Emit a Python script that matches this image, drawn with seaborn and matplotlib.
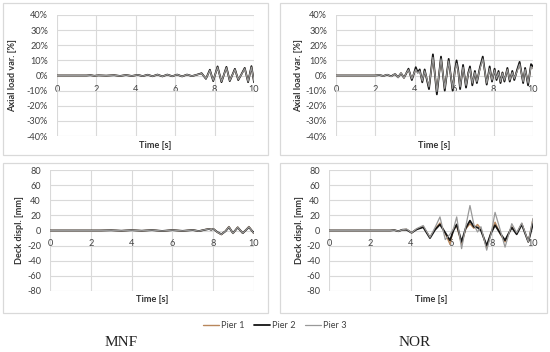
import matplotlib
matplotlib.use("Agg")
import matplotlib.pyplot as plt
from matplotlib.patches import Rectangle
import seaborn as sns
import pandas as pd

# ---------------- data ----------------
piers = ["Pier 1", "Pier 2", "Pier 3"]
pier_colors = ["#b8875c", "#141414", "#999999"]
pier_widths = [1.0, 1.3, 0.9]

time_ticks = [0, 2, 4, 6, 8, 10]
axial_ticks = [-40, -30, -20, -10, 0, 10, 20, 30, 40]
displ_ticks = [-80, -60, -40, -20, 0, 20, 40, 60, 80]

# MNF - axial load variation [%]
mnf_axial_t = [0, 1.5, 1.7, 1.9, 2.1, 2.5, 2.9, 3.2, 3.5, 3.8, 4.1, 4.35, 4.6, 4.85,
               5.1, 5.35, 5.6, 5.85, 6.1, 6.35, 6.6, 6.85, 7.1, 7.34, 7.56, 7.76, 7.93,
               8.15, 8.35, 8.6, 8.77, 9.03, 9.2, 9.35, 9.53, 9.7, 9.87, 10.0]
mnf_axial_p1 = [0, 0, 0.2, -0.2, 0.1, -0.1, 0.2, -0.3, 0.3, -0.3, 0.4, -0.4, 0.5, -0.5,
                0.6, -0.6, 0.6, -0.5, 0.6, -0.6, 0.6, -0.4, 0.5, 1.4, -2.0, 3.5, -3.4,
                5.6, -4.1, 5.3, -3.4, 4.1, -2.8, 0.5, 4.7, -4.1, 5.8, -4.0]
mnf_axial_p2 = [0, 0, 0.2, -0.2, 0.1, -0.1, 0.2, -0.3, 0.3, -0.3, 0.4, -0.4, 0.5, -0.5,
                0.6, -0.6, 0.6, -0.5, 0.6, -0.6, 0.6, -0.4, 0.5, 1.5, -2.2, 3.8, -3.7,
                6.0, -4.4, 5.7, -3.7, 4.4, -3.0, 0.5, 5.0, -4.4, 6.2, -4.4]
mnf_axial_p3 = [0, 0, 0.2, -0.2, 0.1, -0.1, 0.2, -0.3, 0.3, -0.3, 0.4, -0.4, 0.5, -0.5,
                0.6, -0.6, 0.6, -0.5, 0.6, -0.6, 0.6, -0.4, 0.5, 1.3, -2.0, 3.3, -3.2,
                5.4, -3.9, 5.1, -3.3, 3.9, -2.6, 0.4, 4.5, -3.9, 5.5, -3.8]

# NOR - axial load variation [%]
nor_axial_t = [0, 2.0, 2.2, 2.4, 2.6, 2.8, 3.0, 3.15, 3.3, 3.45, 3.55, 3.68, 3.85, 3.95,
               4.05, 4.15, 4.25, 4.38, 4.5, 4.6, 4.72, 4.92, 5.12, 5.33, 5.52, 5.72, 5.92,
               6.03, 6.12, 6.2, 6.3, 6.45, 6.6, 6.72, 6.8, 6.92, 7.05, 7.15, 7.3, 7.45,
               7.65, 7.8, 7.92, 8.05, 8.15, 8.25, 8.35, 8.45, 8.55, 8.7, 8.82, 8.95, 9.05,
               9.2, 9.32, 9.5, 9.6, 9.75, 9.9, 10.0]
nor_axial_p1 = [0, 0, 0.3, -0.3, 0.5, -0.6, 1.1, -1.3, 1.6, -1.6, 1.0, 4.0, -2.5, 1.0,
                4.5, 2.0, 3.5, -4.0, 3.5, -2.0, -8.0, 12.5, -11.0, 11.5, -9.0, 10.0, -9.0,
                2.5, 8.5, 3.5, -8.0, 6.0, -7.0, 2.0, 5.0, -5.5, 2.5, -4.5, 4.5, 11.5,
                -5.5, 5.0, -3.5, 4.0, -2.5, 2.5, -4.5, 2.0, -3.5, 4.5, -3.5, 2.5, -2.5,
                3.5, 8.0, -4.5, 4.5, -5.5, 6.5, 5.0]
nor_axial_p2 = [0, 0, 0.3, -0.3, 0.5, -0.5, 1.0, -1.2, 1.5, -1.5, 1.0, 4.5, -3.0, 1.0,
                5.5, 2.0, 4.0, -4.5, 4.0, -2.0, -9.0, 14.0, -12.5, 12.5, -10.0, 11.0, -10.0,
                3.0, 10.0, 4.0, -9.0, 7.0, -8.0, 2.0, 6.0, -6.5, 3.0, -5.0, 5.0, 12.5,
                -6.0, 6.0, -4.0, 4.5, -3.0, 3.0, -5.0, 2.0, -4.0, 5.0, -4.0, 3.0, -3.0,
                4.0, 9.0, -5.0, 5.0, -6.5, 7.5, 6.0]
nor_axial_p3 = [0, 0, 0.4, -0.4, 0.6, -0.7, 1.2, -1.4, 1.8, -1.8, 1.2, 3.8, -2.2, 1.2,
                4.0, 1.5, 3.0, -3.5, 3.0, -1.5, -7.5, 12.0, -10.5, 11.0, -8.5, 9.5, -8.5,
                2.0, 8.0, 3.0, -7.5, 5.5, -6.5, 1.5, 4.5, -5.0, 2.0, -4.0, 4.0, 11.0,
                -5.0, 4.5, -3.0, 3.5, -2.0, 2.0, -4.0, 1.5, -3.0, 4.0, -3.0, 2.0, -2.0,
                3.0, 7.5, -4.0, 4.0, -5.0, 6.0, 4.5]

# MNF - deck displacement [mm]
mnf_deck_t = [0, 2.5, 3.0, 3.5, 4.0, 4.5, 5.0, 5.5, 6.0, 6.5, 7.0, 7.3, 7.6, 7.8, 7.9,
              8.0, 8.2, 8.4, 8.6, 8.77, 8.97, 9.2, 9.45, 9.75, 9.98, 10.0]
mnf_deck_p1 = [0, 0, 0.3, -0.3, 0.4, -0.3, 0.5, -0.6, 0.5, -0.5, 0.7, -0.9, 1.2, 2.3, 1.1,
               2.5, -2.3, -5.5, -0.8, 5.3, -4.0, 4.6, -3.8, 5.3, -3.5, -2.8]
mnf_deck_p2 = [0, 0, 0.3, -0.3, 0.4, -0.3, 0.5, -0.6, 0.5, -0.5, 0.6, -0.8, 1.0, 2.0, 1.0,
               2.2, -2.0, -5.0, -1.0, 4.5, -3.5, 4.0, -3.5, 4.5, -3.0, -2.5]
mnf_deck_p3 = [0, 0, 0.3, -0.3, 0.4, -0.3, 0.5, -0.6, 0.5, -0.5, 0.6, -0.8, 1.1, 2.1, 1.0,
               2.4, -2.2, -5.2, -0.9, 4.9, -3.8, 4.3, -3.6, 4.9, -3.3, -2.6]

# NOR - deck displacement [mm]
nor_deck_t = [0, 3.0, 3.2, 3.4, 3.6, 3.8, 4.05, 4.3, 4.62, 4.95, 5.2, 5.44, 5.7, 5.93,
              6.1, 6.26, 6.5, 6.7, 6.91, 7.1, 7.28, 7.45, 7.73, 7.95, 8.14, 8.4, 8.63,
              8.96, 9.2, 9.45, 9.77, 10.0]
nor_deck_p1 = [0, 0, 0.5, -1.0, 1.0, 1.5, -3.0, 2.0, 5.0, -9.0, 2.0, 10.0, -4.0, -18.0,
               2.0, 6.0, -18.0, 2.0, 9.0, 3.0, 8.0, 2.0, -23.0, -2.0, 11.0, -5.0, -15.0,
               5.0, -4.0, 9.0, -15.0, 15.0]
nor_deck_p2 = [0, 0, 0.5, -1.0, 1.0, 1.0, -3.0, 1.5, 4.4, -10.0, 1.0, 8.0, -3.0, -13.0,
               0.0, 8.0, -15.0, 3.0, 13.0, 5.0, 4.0, 0.0, -20.0, -3.0, 7.0, -4.0, -13.0,
               4.0, -5.0, 8.0, -15.0, 9.0]
nor_deck_p3 = [0, 0, 0.5, -1.0, 1.0, 2.0, -3.0, 2.5, 6.6, -9.0, 4.0, 18.0, -12.0, -5.0,
               2.0, 18.0, -24.0, 5.0, 33.0, 8.0, -2.0, 5.0, -26.0, -4.0, 24.0, 0.0, -22.0,
               9.0, -3.0, 10.0, -15.0, 16.0]

# ---------------- figure ----------------
sns.set_style("white")
plt.rcParams["font.family"] = ["Lato", "DejaVu Sans"]
plt.rcParams["axes.unicode_minus"] = False

W, H = 550, 352
fig = plt.figure(figsize=(W / 100, H / 100), dpi=100)


def frac(x0, y0, x1, y1):
    """pixel box (from top-left) -> figure fraction [l, b, w, h]"""
    return [x0 / W, 1 - y1 / H, (x1 - x0) / W, (y1 - y0) / H]


boxes = [(3, 3, 268, 155), (280, 3, 546, 155), (3, 163, 268, 313), (280, 163, 547, 313)]
for b in boxes:
    l, bt, w, h = frac(*b)
    fig.add_artist(Rectangle((l, bt), w, h, transform=fig.transFigure,
                             facecolor="white", edgecolor="#d9d9d9", lw=0.9, zorder=0))


def make_df(t, p1, p2, p3):
    rows = []
    for name, vals in zip(piers, [p1, p2, p3]):
        rows.append(pd.DataFrame({"time": t, "value": vals, "pier": name}))
    return pd.concat(rows, ignore_index=True)


panels = [
    dict(box=(57, 15, 254, 136), df=make_df(mnf_axial_t, mnf_axial_p1, mnf_axial_p2, mnf_axial_p3),
         ylim=(-40, 40), ticks=axial_ticks, pct=True, ylabel="Axial load var. [%]",
         ylx=13, xlab_y=145, xpad=7.2),
    dict(box=(336, 15, 533, 136), df=make_df(nor_axial_t, nor_axial_p1, nor_axial_p2, nor_axial_p3),
         ylim=(-40, 40), ticks=axial_ticks, pct=True, ylabel="Axial load var. [%]",
         ylx=299, xlab_y=145, xpad=7.2),
    dict(box=(50, 170, 254, 291), df=make_df(mnf_deck_t, mnf_deck_p1, mnf_deck_p2, mnf_deck_p3),
         ylim=(-80, 80), ticks=displ_ticks, pct=False, ylabel="Deck displ. [mm]",
         ylx=19, xlab_y=299, xpad=6.0),
    dict(box=(329, 170, 533, 291), df=make_df(nor_deck_t, nor_deck_p1, nor_deck_p2, nor_deck_p3),
         ylim=(-80, 80), ticks=displ_ticks, pct=False, ylabel="Deck displ. [mm]",
         ylx=299, xlab_y=299, xpad=6.0),
]

tick_col = "#404040"
fs = 6.6
for p in panels:
    x0, y0, x1, y1 = p["box"]
    ax = fig.add_axes(frac(x0, y0, x1, y1))
    ax.set_facecolor("none")
    sns.lineplot(data=p["df"], x="time", y="value", hue="pier", hue_order=piers,
                 palette=pier_colors, estimator=None, errorbar=None, sort=False,
                 legend=False, ax=ax)
    for line, lw in zip(ax.lines, pier_widths):
        line.set_linewidth(lw)
    ax.set_xlim(0, 10)
    ax.set_ylim(*p["ylim"])
    ax.set_xticks(time_ticks)
    ax.set_yticks(p["ticks"])
    if p["pct"]:
        ax.set_yticklabels([f"{v}%" for v in p["ticks"]])
    ax.grid(True, color="#d9d9d9", lw=0.8)
    ax.set_axisbelow(True)
    for s in ["top", "right", "left"]:
        ax.spines[s].set_visible(False)
    ax.spines["bottom"].set_position(("data", 0))
    ax.spines["bottom"].set_visible(False)
    ax.tick_params(axis="both", length=0, labelsize=fs, colors=tick_col)
    ax.tick_params(axis="x", pad=p["xpad"])
    ax.tick_params(axis="y", pad=6.5)
    ax.set_xlabel("")
    ax.set_ylabel("")
    ax.text(0.5, -(p["xlab_y"] - y1) / (y1 - y0), "Time [s]", transform=ax.transAxes,
            ha="center", va="center", fontsize=fs, fontweight="bold", color="#333333")
    ax.text(-(x0 - p["ylx"]) / (x1 - x0), 0.5, p["ylabel"], transform=ax.transAxes,
            ha="center", va="center", rotation=90, fontsize=fs, fontweight="bold",
            color="#333333")

# legend
handles = [plt.Line2D([], [], color=c, lw=lw) for c, lw in zip(pier_colors, pier_widths)]
fig.legend(handles, piers, loc="center", bbox_to_anchor=(0.5, 1 - 326 / H), ncol=3,
           frameon=False, fontsize=fs, handlelength=1.7, handletextpad=0.3,
           columnspacing=1.0, labelcolor=tick_col)

fig.text(121 / W, 1 - 343 / H, "MNF", ha="center", va="center",
         fontsize=11, family="Liberation Serif", color="#222222")
fig.text(415 / W, 1 - 343 / H, "NOR", ha="center", va="center",
         fontsize=11, family="Liberation Serif", color="#222222")

fig.savefig("out.png", dpi=100)
